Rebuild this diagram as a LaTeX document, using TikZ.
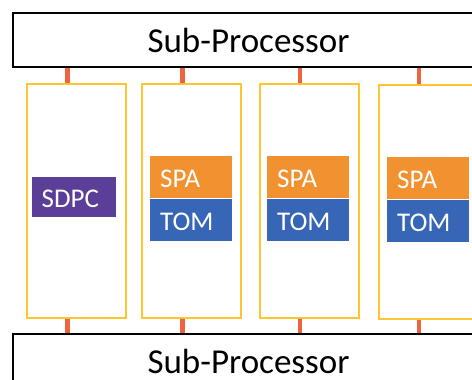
\documentclass[tikz,border=0pt]{standalone}
\usepackage{fontspec}
\setmainfont{Carlito}
\definecolor{spaorange}{HTML}{F29130}
\definecolor{tomblue}{HTML}{3866B6}
\definecolor{sdpcpurple}{HTML}{5B3E98}
\definecolor{coly}{HTML}{FFC52F}
\definecolor{connred}{HTML}{EF6340}
\tikzset{
  procbox/.style={draw=black, line width=2pt, fill=white, minimum width=471pt, minimum height=54pt, inner sep=0pt, anchor=north west, font=\fontsize{35}{40}\selectfont},
  colbox/.style={draw=coly, line width=2pt, minimum width=99pt, minimum height=234pt, inner sep=0pt, anchor=north west},
  unit/.style={text=white, text width=62pt, align=left, inner xsep=10pt, inner ysep=0pt, minimum height=42pt, text height=21pt, text depth=0pt, anchor=north west, font=\fontsize{27}{30}\selectfont},
  spa/.style={unit, fill=spaorange},
  tom/.style={unit, fill=tomblue},
  sdpc/.style={unit, fill=sdpcpurple, text width=64pt, minimum height=40pt},
  conn/.style={draw=connred, line width=4.5pt}
}
\begin{document}
\begin{tikzpicture}[x=1pt,y=-1pt]
\useasboundingbox (0,0) rectangle (472,380);
\clip (0,0) rectangle (472,380);
\node[procbox] (top) at (12,12) {Sub-Processor};
\node[procbox] (bot) at (12,333) {Sub-Processor};
\node[colbox] (c1) at (26,83) {};
\node[colbox] (c2) at (141,83) {};
\node[colbox] (c3) at (258.5,83) {};
\node[colbox] (c4) at (377.5,84) {};
\node[sdpc] (sdpc) at (31.5,177) {SDPC};
\node[spa] (spa2) at (150,156) {SPA};
\node[tom] (tom2) at (spa2.south west) {TOM};
\node[spa] (spa3) at (267,156) {SPA};
\node[tom] (tom3) at (spa3.south west) {TOM};
\node[spa] (spa4) at (387,157) {SPA};
\node[tom] (tom4) at (spa4.south west) {TOM};
\foreach \c in {c1,c2,c3,c4}{
  \draw[conn] ([xshift=-9pt]\c.north) -- ([xshift=-9pt]\c.north |- top.south);
  \draw[conn] ([xshift=-9pt]\c.south) -- ([xshift=-9pt]\c.south |- bot.north);
}
\end{tikzpicture}
\end{document}
